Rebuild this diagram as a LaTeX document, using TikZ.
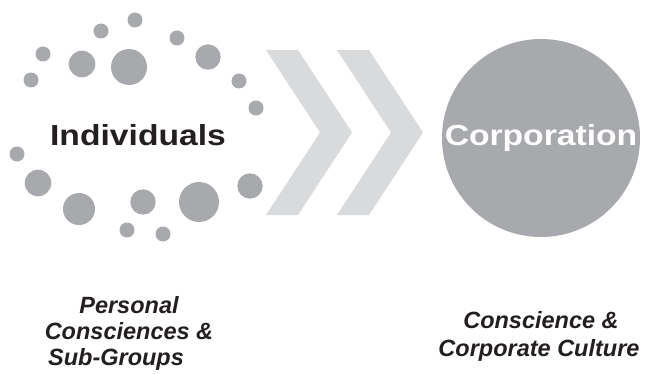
\documentclass[tikz,border=0pt]{standalone}
\usepackage{fontspec}
\setmainfont{Liberation Sans}
\definecolor{dotgray}{HTML}{A7A9AC}
\definecolor{chevgray}{HTML}{D9DADB}
\definecolor{textdark}{HTML}{231F20}
\tikzset{
  bigtext/.style={font=\fontsize{29}{34}\selectfont\bfseries, transform shape, xscale=1.16, anchor=base, inner sep=0pt},
  subtext/.style={font=\fontsize{23.5}{28}\selectfont\bfseries\itshape, text=textdark, anchor=base, inner sep=0pt}
}
\begin{document}
\begin{tikzpicture}[x=1pt, y=1pt]
    \useasboundingbox (0,0) rectangle (645,373);

    % Dots round the individuals
    \foreach \px/\py/\r in {135/20/7.5, 101/31/7.5, 177/38/7.5, 43/54/7.5, 31/80/7.5,
                            239/81/7.5, 256/108/7.5, 17/154/7.5, 127/230/7.5, 163/234/7.5,
                            82/64/13.3, 208/57/12.7, 38/183/13.3, 250/186/12.7, 143/202/12.7,
                            129/67/18, 79/209/16, 199/202/20}
        \fill[dotgray] (\px,373-\py) circle (\r);

    % Chevrons
    \fill[chevgray] (266,323) -- (298,323) -- (352,240.5) -- (298,158) -- (266,158) -- (320,240.5) -- cycle;
    \fill[chevgray] (337,323) -- (369,323) -- (423,240.5) -- (369,158) -- (337,158) -- (391,240.5) -- cycle;

    % Corporation circle
    \fill[dotgray] (541,235) circle (99);

    % Labels
    \node[bigtext, text=textdark] (indiv) at (138,228) {Individuals};
    \node[bigtext, text=white] (corp) at (541,228) {Corporation};
    \node[subtext] (personal) at (129,60) {Personal};
    \node[subtext] (consc) at (129,34) {Consciences \&};
    \node[subtext] (subgrp) at (116,8) {Sub-Groups};
    \node[subtext] (conscorp) at (541,45) {Conscience \&};
    \node[subtext] (culture) at (539,17) {Corporate Culture};
\end{tikzpicture}
\end{document}
